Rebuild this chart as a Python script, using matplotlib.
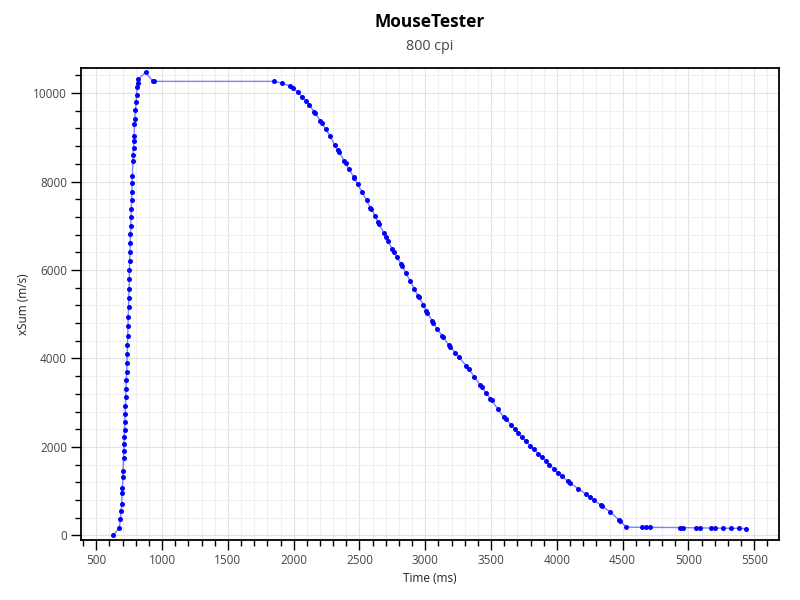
import numpy as np
import matplotlib
matplotlib.use("Agg")
import matplotlib.pyplot as plt
from matplotlib.ticker import MultipleLocator

plt.rcParams["font.family"] = ["Open Sans", "DejaVu Sans"]

# rise from rest up to the peak
rise_ms = [627, 675, 683, 689, 693, 696, 699, 702, 704, 707, 709, 711, 713, 716,
           718, 720, 722, 724, 726, 728, 731, 733, 735, 737, 739, 741, 743, 745,
           747, 749, 751, 752, 754, 756, 758, 760, 762, 764, 766, 768, 770, 772,
           774, 778, 780, 783, 785, 787, 790, 792, 798, 802, 807, 812, 815, 820,
           875, 929, 936]
rise_val = [0, 165, 362, 550, 717, 957, 1079, 1319, 1455, 1749, 1900, 2059, 2224,
            2391, 2563, 2738, 2925, 3122, 3310, 3507, 3695, 3898, 4111, 4306, 4518,
            4729, 4939, 5158, 5369, 5581, 5792, 5995, 6199, 6403, 6613, 6817, 6998,
            7202, 7383, 7572, 7760, 7957, 8122, 8455, 8604, 8756, 8907, 9034, 9292,
            9405, 9615, 9796, 9955, 10129, 10219, 10317, 10468, 10270, 10264]

# slow decay after the plateau
fall_ms = [1849, 1910, 1971, 1997, 2032, 2065, 2093, 2119, 2154, 2161, 2202, 2212,
           2243, 2278, 2311, 2337, 2344, 2385, 2395, 2418, 2456, 2461, 2486, 2522,
           2555, 2583, 2590, 2621, 2641, 2651, 2684, 2702, 2717, 2750, 2763, 2783,
           2819, 2826, 2852, 2884, 2915, 2945, 2950, 2984, 3006, 3014, 3052, 3062,
           3088, 3128, 3133, 3182, 3189, 3227, 3253, 3308, 3331, 3371, 3417, 3428,
           3460, 3493, 3504, 3551, 3595, 3615, 3651, 3679, 3707, 3734, 3763, 3795,
           3826, 3858, 3884, 3919, 3944, 3980, 4010, 4041, 4081, 4097, 4162, 4219,
           4249, 4284, 4333, 4343, 4407, 4470, 4478, 4527]
fall_val = [10264, 10226, 10158, 10106, 10023, 9917, 9827, 9736, 9578, 9554, 9374,
            9314, 9193, 9020, 8831, 8710, 8665, 8468, 8409, 8287, 8106, 8084, 7934,
            7753, 7572, 7405, 7383, 7210, 7081, 7029, 6839, 6749, 6652, 6471, 6410,
            6290, 6124, 6086, 5935, 5754, 5581, 5414, 5398, 5219, 5083, 5030, 4857,
            4803, 4676, 4518, 4487, 4299, 4269, 4133, 4043, 3839, 3763, 3590, 3400,
            3355, 3228, 3093, 3054, 2857, 2676, 2624, 2504, 2405, 2314, 2224, 2133,
            2029, 1946, 1848, 1771, 1674, 1600, 1500, 1410, 1335, 1229, 1192, 1057,
            934, 867, 792, 686, 663, 527, 355, 333, 185]

# residual tail
tail_ms = [4647, 4678, 4706, 4932, 4957, 5059, 5085, 5168, 5199, 5262, 5320, 5381, 5440]
tail_val = [183, 182, 181, 176, 175, 172, 171, 168, 167, 164, 160, 157, 152]

t = np.array(rise_ms + fall_ms + tail_ms)
v = np.array(rise_val + fall_val + tail_val)

fig = plt.figure(figsize=(8, 6), dpi=100)
ax = fig.add_axes([81 / 800, 1 - 540 / 600, 698 / 800, (540 - 67.7) / 600])

ax.plot(t, v, color="#0000ff", alpha=0.5, lw=1, zorder=2)
ax.plot(t, v, "o", color="#0000ff", ms=3.6, mec="none", zorder=3)

ax.set_xlim(384, 5688)
ax.set_ylim(-105, 10573)
ax.xaxis.set_major_locator(MultipleLocator(500))
ax.xaxis.set_minor_locator(MultipleLocator(100))
ax.yaxis.set_major_locator(MultipleLocator(2000))
ax.yaxis.set_minor_locator(MultipleLocator(400))

ax.grid(which="major", color="#e3e3e6", lw=0.8, zorder=0)
ax.grid(which="minor", color="#f0f0f2", lw=0.8, zorder=0)
ax.set_axisbelow(True)

for s in ax.spines.values():
    s.set_linewidth(1.3)
ax.tick_params(which="major", length=7, width=1, labelsize=8.5, labelcolor="#444444", pad=3)
ax.tick_params(which="minor", length=4, width=1)

ax.set_xlabel("Time (ms)", fontsize=8.5, color="#222222", labelpad=4)
ax.set_ylabel("xSum (m/s)", fontsize=8.5, color="#222222", labelpad=2)

cx = (81 + 779) / 2 / 800
fig.text(cx, 1 - 22 / 600, "MouseTester", ha="center", va="center",
         fontsize=12.5, fontweight="bold", color="black")
fig.text(cx, 1 - 46 / 600, "800 cpi", ha="center", va="center",
         fontsize=10.3, color="#444444")

fig.savefig("out.png", dpi=100)
